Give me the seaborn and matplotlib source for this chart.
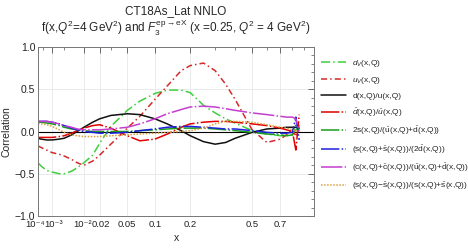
import numpy as np
import pandas as pd
import matplotlib
matplotlib.use("Agg")
import matplotlib.pyplot as plt
import matplotlib.transforms as mtransforms
import seaborn as sns

sns.set_style("white")
plt.rcParams['font.family'] = ['Liberation Sans', 'DejaVu Sans']
plt.rcParams['mathtext.fontset'] = 'custom'
plt.rcParams['mathtext.rm'] = 'Liberation Sans'
plt.rcParams['mathtext.it'] = 'Liberation Sans:italic'
plt.rcParams['mathtext.bf'] = 'Liberation Sans:bold'

# x grid the curves were read at
x = [1e-4, 2e-4, 5e-4, 1e-3, 2e-3, 3e-3, 5e-3, 7e-3, 1e-2, 0.015, 0.02, 0.03,
     0.05, 0.07, 0.1, 0.13, 0.17, 0.2, 0.25, 0.3, 0.35, 0.4, 0.5, 0.6, 0.7,
     0.75, 0.8, 0.83, 0.86]

dv = [-0.37, -0.41, -0.46, -0.48, -0.50, -0.50, -0.47, -0.43, -0.37, -0.28, -0.14, 0.06,
      0.25, 0.36, 0.45, 0.49, 0.49, 0.46, 0.31, 0.22, 0.15, 0.10, 0.01, -0.03, -0.05,
      -0.05, -0.04, 0.02, 0.05]
uv = [-0.17, -0.19, -0.22, -0.25, -0.27, -0.29, -0.33, -0.37, -0.40, -0.35, -0.28, -0.15,
      0.04, 0.18, 0.38, 0.54, 0.72, 0.78, 0.81, 0.72, 0.56, 0.38, 0.02, -0.13, -0.09,
      -0.04, 0.03, -0.06, 0.08]
d_u = [-0.08, -0.09, -0.10, -0.10, -0.09, -0.08, -0.04, 0.0, 0.05, 0.11, 0.15, 0.19,
       0.21, 0.20, 0.15, 0.09, 0.01, -0.05, -0.12, -0.15, -0.13, -0.08, -0.01, 0.03, 0.04,
       0.05, 0.05, 0.05, 0.04]
dbar_ubar = [-0.07, -0.07, -0.07, -0.07, -0.06, -0.05, -0.02, 0.01, 0.04, 0.07, 0.08, 0.04,
             -0.05, -0.11, -0.09, -0.03, 0.05, 0.09, 0.11, 0.12, 0.12, 0.11, 0.09, 0.07, 0.04,
             0.02, 0.0, -0.22, 0.20]
s2 = [0.11, 0.11, 0.10, 0.09, 0.07, 0.05, 0.03, 0.02, 0.01, 0.0, 0.0, 0.0,
      0.0, 0.01, 0.02, 0.03, 0.04, 0.04, 0.04, 0.03, 0.02, 0.01, -0.01, -0.03, -0.04,
      -0.05, -0.04, 0.08, 0.02]
ssbar_d = [0.12, 0.12, 0.12, 0.11, 0.09, 0.07, 0.04, 0.02, 0.0, -0.01, -0.02, -0.02,
           -0.01, 0.01, 0.03, 0.05, 0.06, 0.06, 0.05, 0.04, 0.03, 0.03, 0.01, -0.01, -0.02,
           -0.02, -0.01, 0.17, -0.10]
ccbar = [0.12, 0.12, 0.12, 0.11, 0.09, 0.07, 0.05, 0.03, 0.02, 0.02, 0.02, 0.03,
         0.05, 0.09, 0.15, 0.21, 0.26, 0.29, 0.30, 0.29, 0.27, 0.25, 0.22, 0.20, 0.18,
         0.17, 0.17, 0.15, 0.0]
sasym = [0.09, 0.09, 0.08, 0.06, 0.02, -0.01, -0.04, -0.05, -0.06, -0.06, -0.06, -0.05,
         -0.04, -0.03, -0.02, -0.01, 0.0, 0.01, 0.04, 0.09, 0.12, 0.12, 0.11, 0.08, 0.05,
         0.04, 0.02, 0.01, 0.0]

labels = [r"$d_V$(x,Q)", r"$u_V$(x,Q)", "d(x,Q)/u(x,Q)",
          r"$\bar{d}$(x,Q)/$\bar{u}$(x,Q)",
          r"2s(x,Q)/($\bar{\mathrm{u}}$(x,Q)+$\bar{\mathrm{d}}$(x,Q))",
          r"(s(x,Q)+$\bar{\mathrm{s}}$(x,Q))/(2$\bar{\mathrm{d}}$(x,Q))",
          r"(c(x,Q)+$\bar{\mathrm{c}}$(x,Q))/($\bar{\mathrm{u}}$(x,Q)+$\bar{\mathrm{d}}$(x,Q))",
          r"(s(x,Q)$-\bar{\mathrm{s}}$(x,Q))/(s(x,Q)+$\bar{\mathrm{s}}$(x,Q))"]
series = [dv, uv, d_u, dbar_ubar, s2, ssbar_d, ccbar, sasym]
colors = ["#3ecf3e", "#d42a2a", "#111111", "#e00000", "#1a9e1a", "#2020e0", "#c43fd0", "#d9a040"]
styles = [(0, (6, 2, 1, 2)), (0, (4, 2, 1, 2)), "-", (0, (12, 1.5, 1, 1.5)),
          (0, (12, 1.5, 1, 1.5)), (0, (12, 1.5, 1, 1.5)), (0, (14, 1.5, 1, 1.5)), (0, (1, 1))]

xtick_vals = [1e-4, 1e-3, 1e-2, 0.02, 0.05, 0.1, 0.2, 0.5, 0.7]
xtick_labels = ["10\u207b\u2074", "10\u207b\u00b3", "10\u207b\u00b2", "0.02", "0.05",
                "0.1", "0.2", "0.5", "0.7"]

fig = plt.figure(figsize=(4.68, 2.48), dpi=100)
ax = fig.add_axes([38 / 468, 1 - 216 / 248, 276 / 468, 169 / 248])

p = 0.35
ax.set_xscale('function', functions=(lambda v: np.sign(v) * np.abs(v) ** p,
                                     lambda t: np.sign(t) * np.abs(t) ** (1 / p)))

ax.axhline(0, color="black", lw=0.8, zorder=1)
for vals, lab, c, ls in zip(series, labels, colors, styles):
    sns.lineplot(x=x, y=vals, ax=ax, color=c, linestyle=ls, lw=1.1, label=lab,
                 errorbar=None, sort=False)

ax.set_xlim(1e-4, 1)
ax.set_ylim(-1, 1)
ax.set_xticks(xtick_vals)
ax.set_xticklabels(xtick_labels)
ax.set_xticks([3e-4, 3e-3, 0.03, 0.3, 0.4, 0.6, 0.8, 0.9], minor=True)
ax.set_yticks([-1, -0.5, 0, 0.5, 1])
ax.set_yticklabels(["\u22121.0", "\u22120.5", "0.0", "0.5", "1.0"])
ax.set_yticks(np.arange(-1, 1.01, 0.1), minor=True)
ax.tick_params(which='both', direction='in', top=True, right=True, labelsize=7.5,
               colors="#555555", labelcolor="#222222", pad=2)
ax.tick_params(axis='x', which='major', labelsize=6.8, pad=3)
ax.tick_params(which='major', length=4, width=0.6)
ax.tick_params(which='minor', length=2, width=0.5)
ax.grid(True, which='major', color="#e6e6e6", lw=0.6)
for s in ax.spines.values():
    s.set_color("#777777")
    s.set_linewidth(0.7)

# nudge the crowded small-x labels apart a little
nudges = [-2.5, 1.0, -1.5, 1.5, 0, 0, 0, 0, 0]
for lbl, dx in zip(ax.get_xticklabels(), nudges):
    lbl.set_transform(lbl.get_transform() + mtransforms.ScaledTranslation(dx / 100, 0, fig.dpi_scale_trans))

ax.set_xlabel("x", fontsize=7.5, labelpad=3)
ax.set_ylabel("Correlation", fontsize=7.5, labelpad=2)

fig.text(176 / 468, 1 - 11 / 248, "CT18As_Lat NNLO", ha="center", va="center", fontsize=8.5)
fig.text(176 / 468, 1 - 28 / 248,
         r"f(x,$Q^2$=4 GeV$^2$) and $F_3^{\mathrm{ep}\rightarrow\mathrm{eX}}$ (x =0.25, $Q^2$ = 4 GeV$^2$)",
         ha="center", va="center", fontsize=8.5)

handles, labs = ax.get_legend_handles_labels()
ax.get_legend().remove()
fig.legend(handles, labs, loc="upper left", bbox_to_anchor=(318 / 468, 1 - 55 / 248),
           frameon=False, fontsize=6, handlelength=3.0, handletextpad=0.7,
           labelspacing=0.72, borderaxespad=0)

fig.savefig("out.png", dpi=100)
